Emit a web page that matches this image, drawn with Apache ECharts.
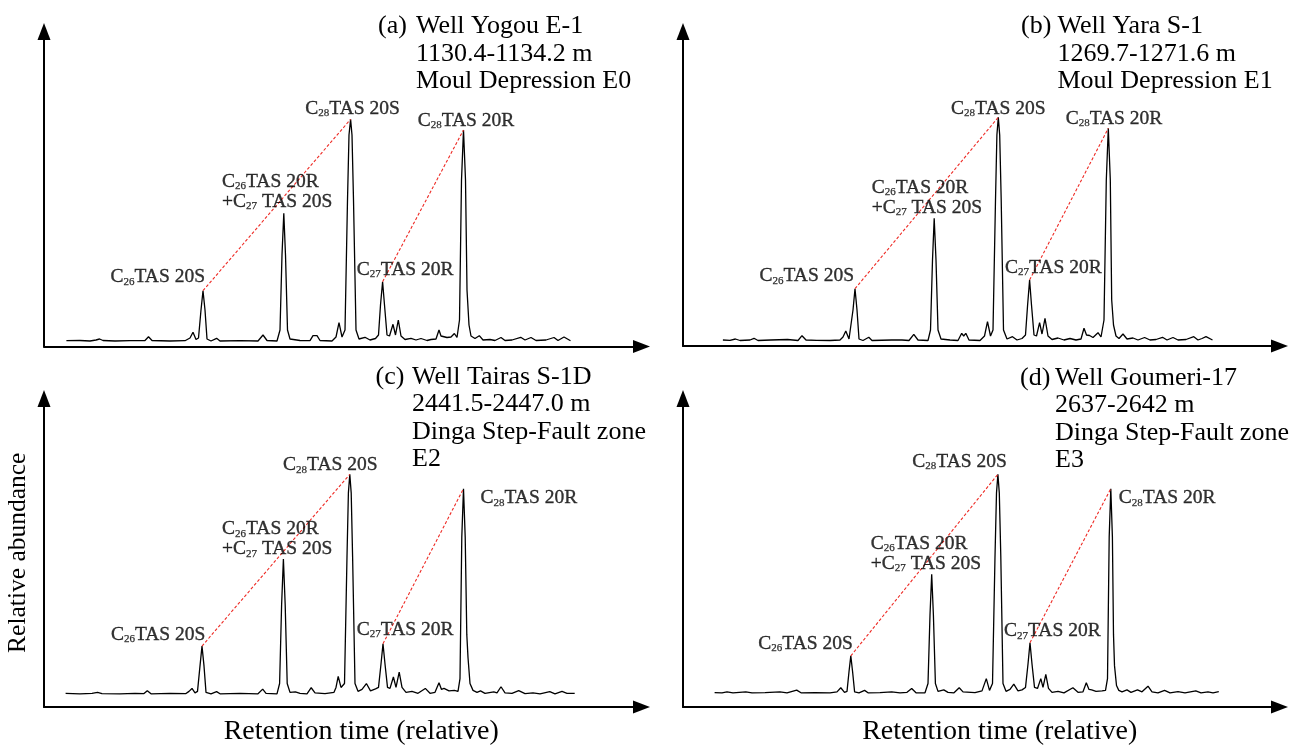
<!DOCTYPE html>
<html>
<head>
<meta charset="utf-8">
<title>TAS chromatograms</title>
<script src="https://cdn.jsdelivr.net/npm/echarts@6/dist/echarts.min.js"></script>
<style>
  html, body { margin: 0; padding: 0; background: #fff; }
  #chart { width: 1303px; height: 748px; }
</style>
</head>
<body>
<div id="chart"></div>
<script>
// relative retention time (x) and relative abundance (y)
var traceA = [
  [2.24,0.58],[3.6,0.6],[4.6,0.55],[5.2,0.65],[5.56,0.75],[5.9,0.6],[7.1,0.55],[8.6,0.58],
  [10.1,0.6],[10.45,0.98],[10.8,0.6],[12.6,0.55],[14.1,0.58],[14.6,0.85],[14.9,1.42],[15.2,0.7],
  [15.45,0.85],[15.7,3.65],[15.9,5.58],[16.1,3.65],[16.3,0.75],[16.7,0.55],[17.26,0.82],[17.6,0.55],
  [19.6,0.58],[21.4,0.55],[21.9,1.15],[22.3,0.6],[23.3,0.55],[23.6,1.65],[23.8,9.15],[23.98,13.32],
  [24.15,9.15],[24.35,1.65],[24.6,0.75],[25.6,0.6],[26.6,0.58],[26.9,1.08],[27.1,0.9],[27.3,1.08],
  [27.6,0.6],[28.8,0.55],[29.2,0.95],[29.5,2.38],[29.8,0.95],[30.1,1.65],[30.35,14.65],[30.5,21.15],
  [30.66,22.72],[30.8,21.15],[30.95,14.65],[31.2,1.65],[31.5,0.75],[32.1,0.92],[32.6,0.65],[33.15,0.8],
  [33.45,1.15],[33.65,4.15],[33.86,6.48],[34.05,4.15],[34.3,1.15],[34.55,1.05],[34.9,2.22],[35.15,1.15],
  [35.43,2.65],[35.7,1.05],[36.1,0.7],[36.7,0.82],[37.2,0.65],[37.7,0.8],[38.3,0.6],[38.7,0.7],
  [39.2,0.75],[39.5,1.65],[39.7,1.05],[39.9,1.15],[40.3,0.9],[40.7,0.95],[41.04,1.3],[41.3,0.9],
  [41.55,2.65],[41.75,16.65],[41.95,21.65],[42.15,16.65],[42.3,5.65],[42.5,2.15],[42.7,1.05],[43.1,0.8],
  [43.53,1.08],[43.9,0.65],[44.6,0.7],[45.1,0.6],[45.7,0.9],[46.1,0.6],[46.8,0.65],[47.67,0.92],
  [48.1,0.65],[48.7,0.9],[49.2,0.6],[50.2,0.65],[51.0,0.9],[51.4,0.6],[52.0,0.95],[52.65,0.58]
];
var traceB = [
  [3.99,0.6],[4.7,0.57],[5.24,0.7],[5.7,0.55],[6.7,0.6],[7.1,0.77],[7.5,0.55],[8.78,0.6],
  [10.45,0.65],[11.5,0.55],[11.9,1.03],[12.3,0.6],[13.37,0.57],[14.7,0.55],[15.7,0.6],[16.0,0.9],
  [16.28,1.5],[16.6,0.7],[16.8,0.8],[17.0,3.6],[17.2,5.73],[17.4,3.6],[17.6,0.7],[18.0,0.55],
  [18.58,0.87],[18.9,0.55],[20.87,0.6],[21.9,0.6],[22.6,0.55],[23.08,1.17],[23.5,0.6],[24.5,0.55],
  [24.75,1.6],[24.95,8.6],[25.12,12.77],[25.3,8.6],[25.5,1.6],[25.8,0.7],[26.7,0.6],[27.5,0.55],
  [27.87,1.27],[28.07,1.0],[28.28,1.27],[28.6,0.6],[29.7,0.55],[30.15,1.0],[30.45,2.43],[30.75,1.0],
  [31.0,1.6],[31.25,14.6],[31.39,21.1],[31.53,22.87],[31.67,21.1],[31.82,14.6],[32.05,1.6],[32.4,0.7],
  [32.95,0.93],[33.4,0.6],[33.9,0.75],[34.25,1.1],[34.46,4.1],[34.66,6.6],[34.85,4.1],[35.1,1.1],
  [35.35,1.0],[35.66,2.33],[35.9,1.2],[36.2,2.77],[36.5,1.0],[36.9,0.65],[37.5,0.8],[38.1,0.6],
  [38.7,0.75],[39.3,0.6],[39.8,0.7],[40.1,1.77],[40.35,1.1],[40.66,1.05],[41.0,0.85],[41.5,1.33],
  [41.8,0.9],[42.1,2.6],[42.33,16.6],[42.53,21.77],[42.73,16.6],[42.87,4.6],[43.05,2.1],[43.3,1.0],
  [43.6,0.75],[44.0,1.2],[44.4,0.7],[45.0,0.8],[45.5,0.6],[46.16,0.85],[46.7,0.6],[47.3,0.65],
  [47.95,0.87],[48.4,0.6],[49.0,0.85],[49.5,0.6],[50.3,0.65],[51.08,0.93],[51.5,0.6],[51.9,0.75],
  [52.3,0.93],[52.95,0.6]
];
var traceC = [
  [2.16,1.4],[3.6,1.35],[4.8,1.4],[5.35,1.5],[5.8,1.37],[7.6,1.35],[9.1,1.4],[10.0,1.37],
  [10.33,1.67],[10.7,1.35],[12.6,1.4],[14.2,1.37],[14.5,1.6],[14.8,1.9],[15.1,1.45],[15.35,1.6],
  [15.6,4.2],[15.8,6.23],[16.0,4.2],[16.2,1.5],[16.7,1.35],[17.26,1.57],[17.6,1.35],[19.6,1.4],
  [21.4,1.35],[21.87,1.83],[22.2,1.4],[23.3,1.35],[23.56,2.4],[23.76,10.4],[23.94,15.13],[24.12,10.4],
  [24.32,2.4],[24.6,1.5],[25.14,1.55],[25.6,1.4],[26.3,1.35],[26.72,1.97],[27.1,1.45],[28.1,1.37],
  [29.0,1.5],[29.2,2.0],[29.42,3.13],[29.7,2.0],[30.05,2.4],[30.3,15.4],[30.44,21.9],[30.58,23.8],
  [30.72,21.9],[30.86,15.4],[31.1,2.4],[31.4,1.6],[31.8,1.8],[32.24,2.4],[32.65,1.65],[33.15,1.85],
  [33.45,2.0],[33.7,4.4],[33.9,6.47],[34.1,4.4],[34.35,2.0],[34.6,1.9],[34.94,3.07],[35.2,2.0],
  [35.52,3.57],[35.8,2.0],[36.2,1.5],[36.8,1.6],[37.4,1.4],[38.13,1.9],[38.6,1.4],[39.1,1.5],
  [39.5,2.47],[39.75,1.8],[40.0,1.9],[40.5,1.65],[41.04,1.7],[41.4,1.6],[41.6,2.9],[41.78,17.4],
  [41.95,22.33],[42.12,17.4],[42.28,7.4],[42.4,5.07],[42.6,2.4],[42.9,1.7],[43.3,1.5],[43.65,1.65],
  [44.1,1.4],[44.98,1.55],[45.3,1.45],[45.7,2.07],[46.1,1.45],[46.8,1.4],[47.47,1.67],[48.1,1.37],
  [48.9,1.45],[49.6,1.35],[50.58,1.57],[51.1,1.35],[51.8,1.6],[52.3,1.4],[53.07,1.4]
];
var traceD = [
  [3.16,1.47],[3.9,1.45],[4.4,1.55],[5.0,1.45],[6.28,1.55],[6.9,1.45],[8.2,1.47],[9.7,1.55],
  [10.4,1.45],[11.37,1.73],[11.8,1.45],[13.2,1.47],[14.7,1.45],[15.4,1.55],[15.78,1.97],[16.15,1.5],
  [16.4,1.6],[16.6,3.6],[16.78,5.23],[16.96,3.6],[17.16,1.55],[17.6,1.45],[18.16,1.7],[18.5,1.45],
  [19.7,1.47],[20.87,1.55],[21.7,1.45],[22.4,1.5],[22.87,1.9],[23.3,1.45],[24.2,1.45],[24.5,2.4],
  [24.7,9.4],[24.87,13.57],[25.04,9.4],[25.24,2.4],[25.5,1.6],[26.08,1.75],[26.5,1.5],[27.1,1.45],
  [27.62,1.97],[28.0,1.55],[29.2,1.47],[29.9,1.65],[30.33,2.9],[30.65,1.7],[30.95,2.4],[31.2,15.4],
  [31.35,21.9],[31.49,23.8],[31.63,21.9],[31.78,15.4],[32.0,2.4],[32.3,1.6],[32.7,1.8],[33.08,2.33],
  [33.5,1.65],[33.9,1.75],[34.25,2.0],[34.5,4.4],[34.7,6.57],[34.9,4.4],[35.15,2.0],[35.45,1.9],
  [35.78,2.9],[36.0,2.0],[36.28,3.33],[36.55,1.9],[36.9,1.5],[37.5,1.6],[38.1,1.45],[38.99,1.97],
  [39.5,1.5],[40.0,1.55],[40.33,2.47],[40.6,1.8],[40.87,1.75],[41.3,1.6],[41.9,1.65],[42.25,1.7],
  [42.45,2.9],[42.62,17.4],[42.78,22.33],[42.94,17.4],[43.05,7.4],[43.15,4.23],[43.35,2.2],[43.58,1.7],
  [43.9,1.55],[44.4,1.75],[44.8,1.5],[45.45,1.75],[45.9,1.55],[46.5,2.13],[46.9,1.55],[47.5,1.45],
  [48.16,1.7],[48.7,1.45],[49.5,1.57],[50.2,1.45],[51.28,1.65],[51.8,1.45],[52.5,1.55],[53.0,1.45],
  [53.58,1.57]
];

// peak tops, order: C26 20S, C26 20R+C27 20S, C28 20S, C27 20R, C28 20R
var peaksA = [[15.9,5.58],[23.98,13.32],[30.66,22.72],[33.86,6.48],[41.95,21.65]];
var peaksB = [[17.2,5.73],[25.12,12.77],[31.53,22.87],[34.66,6.6],[42.53,21.77]];
var peaksC = [[15.8,6.23],[23.94,15.13],[30.58,23.8],[33.9,6.47],[41.95,22.33]];
var peaksD = [[16.78,5.23],[24.87,13.57],[31.49,23.8],[34.7,6.57],[42.78,22.33]];

var peakNames = [
  '{m|C}{s|26}{m|TAS 20S}',
  '{m|C}{s|26}{m|TAS 20R}\n{m|+C}{s|27}{m| TAS 20S}',
  '{m|C}{s|28}{m|TAS 20S}',
  '{m|C}{s|27}{m|TAS 20R}',
  '{m|C}{s|28}{m|TAS 20R}'
];

var panelTags = ['(a)', '(b)', '(c)', '(d)'];
var panelInfo = [
  'Well Yogou E-1\n1130.4-1134.2 m\nMoul Depression E0',
  'Well Yara S-1\n1269.7-1271.6 m\nMoul Depression E1',
  'Well Tairas S-1D\n2441.5-2447.0 m\nDinga Step-Fault zone\nE2',
  'Well Goumeri-17\n2637-2642 m\nDinga Step-Fault zone\nE3'
];

var xAxisMax = [59.75, 59.65, 59.75, 59.65];
var yAxisMax = [31.5, 31.45, 31.55, 31.55];

var traces = [traceA, traceB, traceC, traceD];
var peaks = [peaksA, peaksB, peaksC, peaksD];

// layout
var FONT = "'Times New Roman', 'Liberation Serif', serif";
var grids = [
  {left: 44, top: 31.5, width: 597.5, height: 315},
  {left: 683, top: 31.5, width: 596.5, height: 314.5},
  {left: 44, top: 398.5, width: 597.5, height: 315.5},
  {left: 683, top: 398.5, width: 596.5, height: 315.5}
];
var tagPos = [[378, 12.5], [1021, 12.5], [375.5, 363], [1020, 364]];
var infoPos = [[416, 12.5], [1057.5, 12.5], [412, 363], [1055, 364]];
// align and pixel offset of each peak label from its peak top
var labelLayout = [
  [['right', 2, -3.4], ['left', -61.8, -1.4], ['center', 2, -0.7], ['left', -25.8, -2.1], ['center', 2.5, 0.9]],
  [['right', -1, -2.4], ['left', -62.5, -0.4], ['center', 0, 1.3], ['left', -24.6, -2.4], ['center', 5.7, 0.3]],
  [['right', 3.4, -1.4], ['left', -61.4, 0.2], ['center', -19.5, 0.9], ['left', -26.2, -4], ['left', 17, 19.6]],
  [['right', 2, -2.1], ['left', -60.9, -0.4], ['center', -38.3, -2.4], ['left', -26, -1.4], ['left', 8, 19.6]]
];

var axisLine = {
  show: true,
  symbol: ['none', 'triangle'],
  symbolSize: [13, 17],
  lineStyle: {color: '#000', width: 2}
};
var rich = {
  m: {fontFamily: FONT, fontSize: 19.5, lineHeight: 20, color: '#000', textBorderColor: '#000', textBorderWidth: 0.35},
  s: {fontFamily: FONT, fontSize: 11, lineHeight: 9, color: '#000', verticalAlign: 'bottom', textBorderColor: '#000', textBorderWidth: 0.25}
};

var option = {
  animation: false,
  backgroundColor: '#fff',
  title: [],
  grid: grids,
  xAxis: [],
  yAxis: [],
  series: []
};

for (var i = 0; i < 4; i++) {
  option.title.push({
    text: panelTags[i], left: tagPos[i][0], top: tagPos[i][1], padding: 0,
    textStyle: {fontFamily: FONT, fontSize: 26, fontWeight: 'normal', lineHeight: 27.5, color: '#000'}
  });
  option.title.push({
    text: panelInfo[i], left: infoPos[i][0], top: infoPos[i][1], padding: 0,
    textStyle: {fontFamily: FONT, fontSize: 26, fontWeight: 'normal', lineHeight: 27.5, color: '#000'}
  });

  var xa = {
    type: 'value', gridIndex: i, min: 0, max: xAxisMax[i],
    axisLine: axisLine, axisTick: {show: false}, axisLabel: {show: false}, splitLine: {show: false}
  };
  if (i >= 2) {
    xa.name = 'Retention time (relative)';
    xa.nameLocation = 'middle';
    xa.nameGap = 10;
    xa.nameTextStyle = {fontFamily: FONT, fontSize: 28, lineHeight: 30, color: '#000', padding: [0, 0, 0, 37]};
  }
  option.xAxis.push(xa);

  var ya = {
    type: 'value', gridIndex: i, min: 0, max: yAxisMax[i],
    axisLine: axisLine, axisTick: {show: false}, axisLabel: {show: false}, splitLine: {show: false}
  };
  if (i === 2) {
    ya.name = 'Relative abundance';
    ya.nameLocation = 'middle';
    ya.nameRotate = 90;
    ya.nameGap = 12;
    ya.nameTextStyle = {fontFamily: FONT, fontSize: 25.5, lineHeight: 28, color: '#000'};
  }
  option.yAxis.push(ya);

  var pk = peaks[i];

  option.series.push({
    type: 'line', xAxisIndex: i, yAxisIndex: i, data: traces[i],
    symbol: 'none', silent: true,
    lineStyle: {color: '#000', width: 1.3}
  });

  // red dashed connectors between the 20S/20R pairs
  [[0, 2], [3, 4]].forEach(function (pair) {
    option.series.push({
      type: 'line', xAxisIndex: i, yAxisIndex: i,
      data: [pk[pair[0]], pk[pair[1]]],
      symbol: 'none', silent: true, z: 3,
      lineStyle: {color: '#ee2a24', width: 1.1, type: [3, 2]}
    });
  });

  var labelData = pk.map(function (p, k) {
    var lay = labelLayout[i][k];
    return {
      value: p,
      label: {
        show: true, position: 'inside', align: lay[0], verticalAlign: 'bottom',
        offset: [lay[1], lay[2]], formatter: peakNames[k], rich: rich,
        color: '#000'
      }
    };
  });
  option.series.push({
    type: 'scatter', xAxisIndex: i, yAxisIndex: i, data: labelData,
    symbolSize: 0, silent: true, z: 4,
    itemStyle: {color: 'transparent'},
    emphasis: {disabled: true}
  });
}

var chart = echarts.init(document.getElementById('chart'));
chart.setOption(option);
</script>
</body>
</html>
